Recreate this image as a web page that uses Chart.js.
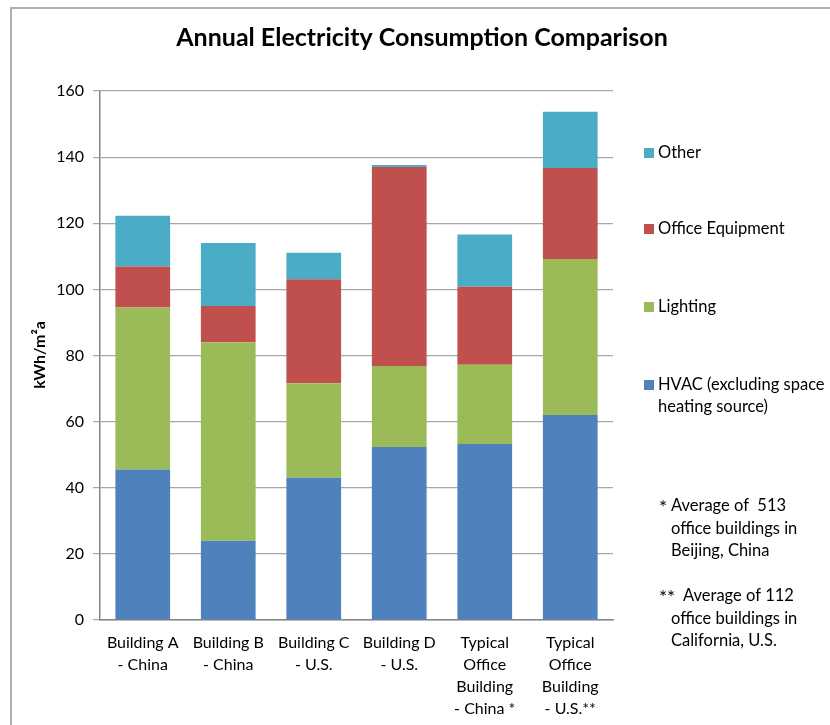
<!DOCTYPE html>
<html lang="en">
<head>
    <meta charset="UTF-8">
    <title>Annual Electricity Consumption Comparison</title>
    <script src="https://cdn.jsdelivr.net/npm/chart.js"></script>
    <style>
        html, body { margin: 0; padding: 0; background: #fff; }
        #wrap { width: 830px; height: 725px; position: relative; }
    </style>
</head>
<body>
    <div id="wrap"><canvas id="grafico" width="830" height="725"></canvas></div>

    <script>
        // categories (multi-line labels)
        const buildings = [
            ['Building A', '- China'],
            ['Building B', '- China'],
            ['Building C', '- U.S.'],
            ['Building D', '- U.S.'],
            ['Typical', 'Office', 'Building', '- China *'],
            ['Typical', 'Office', 'Building', '- U.S.**']
        ];

        // kWh/m²a
        const hvac = [45.5, 24.0, 43.0, 52.3, 53.2, 62.0];
        const lighting = [49.0, 60.0, 28.6, 24.5, 24.0, 47.2];
        const officeEquip = [12.4, 11.0, 31.5, 60.2, 23.6, 27.5];
        const other = [15.4, 19.0, 8.0, 0.6, 15.8, 17.0];

        const yTicks = [0, 20, 40, 60, 80, 100, 120, 140, 160];

        const legendItems = [
            { color: '#4BACC6', lines: ['Other'], y: 153 },
            { color: '#C0504D', lines: ['Office Equipment'], y: 229 },
            { color: '#9BBB59', lines: ['Lighting'], y: 307 },
            { color: '#4F81BD', lines: ['HVAC (excluding space', 'heating source)'], y: 385 }
        ];

        const notes = [
            { mark: '*', indent: 671, lines: ['Average of  513', 'office buildings in', 'Beijing, China'], y: 506 },
            { mark: '**', indent: 683, lines: ['Average of 112', 'office buildings in', 'California, U.S.'], y: 596 }
        ];

        const FONT = 'Lato, "Open Sans", sans-serif';

        // frame, title and side texts
        const extras = {
            id: 'extras',
            beforeDraw(chart) {
                const c = chart.ctx;
                c.save();
                c.strokeStyle = '#b0b0b0';
                c.lineWidth = 2;
                c.beginPath();
                c.moveTo(11, 725);
                c.lineTo(11, 8);
                c.lineTo(830, 8);
                c.stroke();
                c.restore();
            },
            afterDraw(chart) {
                const c = chart.ctx;
                c.save();
                c.fillStyle = '#000';
                c.textBaseline = 'middle';

                c.font = 'bold 25px ' + FONT;
                c.textAlign = 'center';
                c.fillText('Annual Electricity Consumption Comparison', 422, 38);

                c.textAlign = 'left';
                c.font = '16.5px ' + FONT;
                legendItems.forEach(item => {
                    c.fillStyle = item.color;
                    c.fillRect(644, item.y - 5, 10, 10);
                    c.fillStyle = '#000';
                    item.lines.forEach((t, i) => c.fillText(t, 658, item.y + i * 22));
                });

                notes.forEach(n => {
                    c.font = '19px ' + FONT;
                    c.fillText(n.mark, 659, n.y + 2);
                    c.font = '16.5px ' + FONT;
                    c.fillText(n.lines[0], n.indent, n.y);
                    for (let i = 1; i < n.lines.length; i++) {
                        c.fillText(n.lines[i], 671, n.y + i * 22.5);
                    }
                });

                c.translate(40, 355);
                c.rotate(-Math.PI / 2);
                c.textAlign = 'center';
                c.font = 'bold 16px ' + FONT;
                c.fillText('kWh/m²a', 0, 0);
                c.restore();
            }
        };

        const ds = (label, data, color) => ({
            label: label,
            data: data,
            backgroundColor: color,
            borderWidth: 0,
            barPercentage: 0.64,
            categoryPercentage: 1.0
        });

        new Chart(document.getElementById('grafico'), {
            type: 'bar',
            data: {
                labels: buildings,
                datasets: [
                    ds('HVAC (excluding space heating source)', hvac, '#4F81BD'),
                    ds('Lighting', lighting, '#9BBB59'),
                    ds('Office Equipment', officeEquip, '#C0504D'),
                    ds('Other', other, '#4BACC6')
                ]
            },
            options: {
                responsive: false,
                animation: false,
                layout: { padding: { top: 91, right: 217, left: 0, bottom: 0 } },
                plugins: {
                    legend: { display: false },
                    title: { display: false },
                    tooltip: { enabled: false }
                },
                scales: {
                    x: {
                        stacked: true,
                        grid: { display: false, drawTicks: false },
                        border: { display: true, color: '#868686', width: 1.5 },
                        ticks: {
                            color: '#000',
                            padding: 12,
                            maxRotation: 0,
                            autoSkip: false,
                            font: { family: FONT, size: 16, lineHeight: 1.38 }
                        },
                        afterFit(scale) { scale.height = 105; }
                    },
                    y: {
                        stacked: true,
                        min: 0,
                        max: 160,
                        afterBuildTicks(scale) {
                            scale.ticks = yTicks.map(v => ({ value: v }));
                        },
                        grid: { color: '#a6a6a6', lineWidth: 1.2, tickLength: 7 },
                        border: { display: true, color: '#868686', width: 1.5 },
                        ticks: {
                            color: '#000',
                            padding: 9,
                            font: { family: FONT, size: 16 }
                        },
                        afterFit(scale) { scale.width = 100; }
                    }
                }
            },
            plugins: [extras]
        });
    </script>
</body>
</html>
